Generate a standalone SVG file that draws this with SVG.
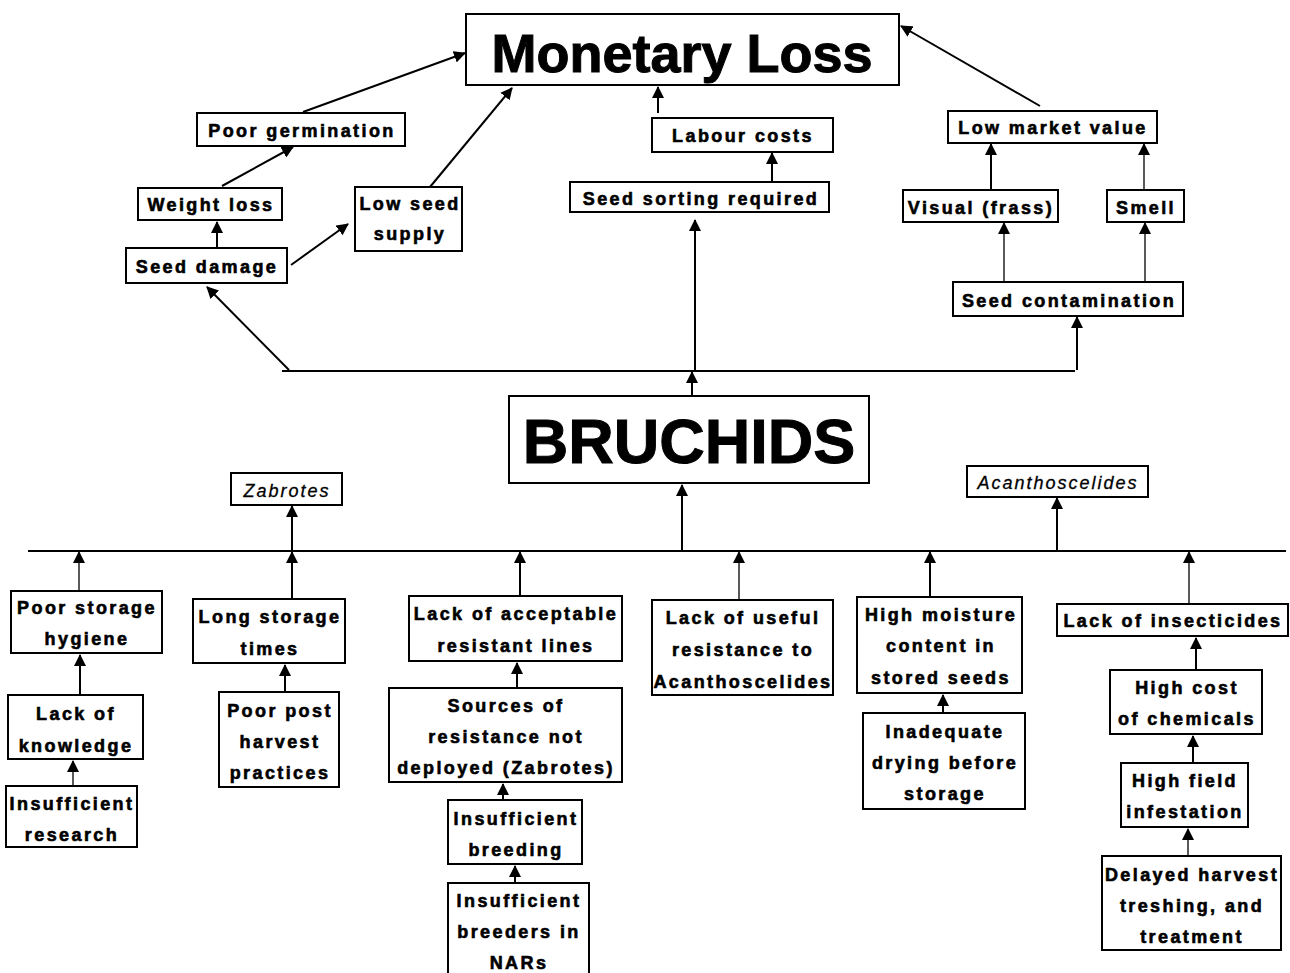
<svg xmlns="http://www.w3.org/2000/svg" width="1290" height="973" viewBox="0 0 1290 973">
  <defs>
    <marker id="arrow" markerUnits="userSpaceOnUse" markerWidth="12" markerHeight="12" refX="11" refY="6" orient="auto">
      <path d="M0,0 L12,6 L0,12 z" fill="#000"/>
    </marker>
    <style>
      .box { fill: #fff; stroke: #000; stroke-width: 2; }
      .lbl { font-family: "Liberation Sans", Arial, sans-serif; font-weight: bold; font-size: 18px; letter-spacing: 2.4px; text-anchor: middle; fill: #000; stroke: #000; stroke-width: 0.6; }
      .sp { font-family: "Liberation Sans", Arial, sans-serif; font-style: italic; font-size: 18px; letter-spacing: 2px; text-anchor: middle; fill: #000; stroke: #000; stroke-width: 0.3; }
      .title { font-family: "Liberation Sans", Arial, sans-serif; font-weight: bold; text-anchor: middle; fill: #000; stroke: #000; stroke-width: 1; }
      .ln { stroke: #000; stroke-width: 2; fill: none; }
      .thin { stroke: #000; stroke-width: 1.3; fill: none; }
      .arr { marker-end: url(#arrow); }
    </style>
  </defs>
  <rect width="1290" height="973" fill="#fff"/>

  <!-- connectors -->
  <g id="connectors">
    <!-- upper bar and its branches -->
    <line class="ln" x1="282" y1="371" x2="1075" y2="371"/>
    <line class="ln arr" x1="289" y1="370" x2="207" y2="287"/>
    <line class="ln arr" x1="695" y1="370" x2="695" y2="220"/>
    <line class="ln arr" x1="1077" y1="370" x2="1077" y2="317"/>
    <line class="ln arr" x1="692" y1="396" x2="692" y2="372"/>
    <!-- loss pathways -->
    <line class="ln arr" x1="217" y1="248" x2="217" y2="222"/>
    <line class="ln arr" x1="291" y1="265" x2="348" y2="224"/>
    <line class="ln arr" x1="222" y1="186" x2="293" y2="147"/>
    <line class="ln arr" x1="303" y1="112" x2="465" y2="53"/>
    <line class="ln arr" x1="430" y1="187" x2="512" y2="88"/>
    <line class="ln arr" x1="772" y1="182" x2="772" y2="153"/>
    <line class="ln arr" x1="658" y1="113" x2="658" y2="87"/>
    <line class="ln arr" x1="1040" y1="106" x2="901" y2="26"/>
    <line class="ln arr" x1="991" y1="190" x2="991" y2="144"/>
    <line class="thin arr" x1="1144" y1="190" x2="1144" y2="144"/>
    <line class="thin arr" x1="1004" y1="282" x2="1004" y2="223"/>
    <line class="thin arr" x1="1145" y1="282" x2="1145" y2="223"/>

    <!-- lower bar and its branches -->
    <line class="ln" x1="28" y1="551" x2="1286" y2="551"/>
    <line class="ln" x1="682" y1="551" x2="682" y2="500"/>
    <line class="ln arr" x1="682" y1="510" x2="682" y2="485"/>
    <line class="ln arr" x1="292" y1="551" x2="292" y2="506"/>
    <line class="ln arr" x1="1057" y1="551" x2="1057" y2="498"/>
    <line class="thin arr" x1="79" y1="591" x2="79" y2="552"/>
    <line class="ln arr" x1="292" y1="599" x2="292" y2="552"/>
    <line class="ln arr" x1="520" y1="596" x2="520" y2="552"/>
    <line class="thin arr" x1="739" y1="600" x2="739" y2="552"/>
    <line class="ln arr" x1="930" y1="597" x2="930" y2="552"/>
    <line class="thin arr" x1="1189" y1="604" x2="1189" y2="552"/>

    <!-- causes chains -->
    <line class="ln arr" x1="80" y1="695" x2="80" y2="655"/>
    <line class="thin arr" x1="73" y1="786" x2="73" y2="761"/>
    <line class="ln arr" x1="285" y1="692" x2="285" y2="665"/>
    <line class="ln arr" x1="517" y1="688" x2="517" y2="663"/>
    <line class="ln arr" x1="503" y1="800" x2="503" y2="784"/>
    <line class="ln arr" x1="515" y1="883" x2="515" y2="866"/>
    <line class="ln arr" x1="943" y1="713" x2="943" y2="695"/>
    <line class="ln arr" x1="1196" y1="670" x2="1196" y2="638"/>
    <line class="ln arr" x1="1193" y1="763" x2="1193" y2="736"/>
    <line class="thin arr" x1="1188" y1="856" x2="1188" y2="829"/>
  </g>

  <!-- headline nodes -->
  <g id="monetary-loss">
    <rect class="box" x="466" y="14" width="433" height="71"/>
    <text class="title" x="682" y="72" font-size="54">Monetary Loss</text>
  </g>
  <g id="bruchids">
    <rect class="box" x="509" y="396" width="360" height="87"/>
    <text class="title" x="689" y="463" font-size="63">BRUCHIDS</text>
  </g>

  <!-- consequences -->
  <g id="poor-germination">
    <rect class="box" x="197" y="113" width="208" height="33"/>
    <text class="lbl" x="302" y="137">Poor germination</text>
  </g>
  <g id="weight-loss">
    <rect class="box" x="138" y="188" width="144" height="32"/>
    <text class="lbl" x="211" y="211">Weight loss</text>
  </g>
  <g id="seed-damage">
    <rect class="box" x="126" y="248" width="161" height="35"/>
    <text class="lbl" x="207" y="273">Seed damage</text>
  </g>
  <g id="low-seed-supply">
    <rect class="box" x="355" y="187" width="107" height="64"/>
    <text class="lbl" x="410" y="210">Low seed</text>
    <text class="lbl" x="410" y="240">supply</text>
  </g>
  <g id="labour-costs">
    <rect class="box" x="652" y="118" width="181" height="34"/>
    <text class="lbl" x="743" y="142">Labour costs</text>
  </g>
  <g id="seed-sorting">
    <rect class="box" x="570" y="182" width="259" height="30"/>
    <text class="lbl" x="701" y="205">Seed sorting required</text>
  </g>
  <g id="low-market-value">
    <rect class="box" x="948" y="111" width="209" height="32"/>
    <text class="lbl" x="1053" y="134">Low market value</text>
  </g>
  <g id="visual-frass">
    <rect class="box" x="903" y="190" width="155" height="32"/>
    <text class="lbl" x="981" y="214">Visual (frass)</text>
  </g>
  <g id="smell">
    <rect class="box" x="1107" y="190" width="77" height="32"/>
    <text class="lbl" x="1146" y="214">Smell</text>
  </g>
  <g id="seed-contamination">
    <rect class="box" x="953" y="282" width="230" height="34"/>
    <text class="lbl" x="1069" y="307">Seed contamination</text>
  </g>

  <!-- species -->
  <g id="zabrotes">
    <rect class="box" x="231" y="473" width="111" height="32"/>
    <text class="sp" x="287" y="497">Zabrotes</text>
  </g>
  <g id="acanthoscelides">
    <rect class="box" x="967" y="466" width="181" height="31"/>
    <text class="sp" x="1058" y="489">Acanthoscelides</text>
  </g>

  <!-- causes -->
  <g id="poor-storage-hygiene">
    <rect class="box" x="11" y="591" width="151" height="62"/>
    <text class="lbl" x="87" y="614">Poor storage</text>
    <text class="lbl" x="87" y="645">hygiene</text>
  </g>
  <g id="lack-of-knowledge">
    <rect class="box" x="8" y="695" width="135" height="64"/>
    <text class="lbl" x="76" y="720">Lack of</text>
    <text class="lbl" x="76" y="752">knowledge</text>
  </g>
  <g id="insufficient-research">
    <rect class="box" x="6" y="786" width="131" height="61"/>
    <text class="lbl" x="72" y="810">Insufficient</text>
    <text class="lbl" x="72" y="841">research</text>
  </g>
  <g id="long-storage-times">
    <rect class="box" x="193" y="599" width="152" height="64"/>
    <text class="lbl" x="270" y="623">Long storage</text>
    <text class="lbl" x="270" y="655">times</text>
  </g>
  <g id="poor-post-harvest">
    <rect class="box" x="219" y="692" width="120" height="95"/>
    <text class="lbl" x="280" y="717">Poor post</text>
    <text class="lbl" x="280" y="748">harvest</text>
    <text class="lbl" x="280" y="779">practices</text>
  </g>
  <g id="lack-resistant-lines">
    <rect class="box" x="409" y="596" width="213" height="65"/>
    <text class="lbl" x="516" y="620">Lack of acceptable</text>
    <text class="lbl" x="516" y="652">resistant lines</text>
  </g>
  <g id="sources-not-deployed">
    <rect class="box" x="389" y="688" width="233" height="94"/>
    <text class="lbl" x="506" y="712">Sources of</text>
    <text class="lbl" x="506" y="743">resistance not</text>
    <text class="lbl" x="506" y="774">deployed (Zabrotes)</text>
  </g>
  <g id="insufficient-breeding">
    <rect class="box" x="448" y="800" width="134" height="64"/>
    <text class="lbl" x="516" y="825">Insufficient</text>
    <text class="lbl" x="516" y="856">breeding</text>
  </g>
  <g id="insufficient-breeders">
    <rect class="box" x="448" y="883" width="141" height="100"/>
    <text class="lbl" x="519" y="907">Insufficient</text>
    <text class="lbl" x="519" y="938">breeders in</text>
    <text class="lbl" x="519" y="969">NARs</text>
  </g>
  <g id="lack-useful-resistance">
    <rect class="box" x="652" y="600" width="181" height="95"/>
    <text class="lbl" x="743" y="624">Lack of useful</text>
    <text class="lbl" x="743" y="656">resistance to</text>
    <text class="lbl" x="743" y="688">Acanthoscelides</text>
  </g>
  <g id="high-moisture">
    <rect class="box" x="857" y="597" width="165" height="96"/>
    <text class="lbl" x="941" y="621">High moisture</text>
    <text class="lbl" x="941" y="652">content in</text>
    <text class="lbl" x="941" y="684">stored seeds</text>
  </g>
  <g id="inadequate-drying">
    <rect class="box" x="863" y="713" width="162" height="96"/>
    <text class="lbl" x="945" y="738">Inadequate</text>
    <text class="lbl" x="945" y="769">drying before</text>
    <text class="lbl" x="945" y="800">storage</text>
  </g>
  <g id="lack-of-insecticides">
    <rect class="box" x="1057" y="604" width="231" height="32"/>
    <text class="lbl" x="1173" y="627">Lack of insecticides</text>
  </g>
  <g id="high-cost-chemicals">
    <rect class="box" x="1110" y="670" width="152" height="64"/>
    <text class="lbl" x="1187" y="694">High cost</text>
    <text class="lbl" x="1187" y="725">of chemicals</text>
  </g>
  <g id="high-field-infestation">
    <rect class="box" x="1121" y="763" width="127" height="64"/>
    <text class="lbl" x="1185" y="787">High field</text>
    <text class="lbl" x="1185" y="818">infestation</text>
  </g>
  <g id="delayed-harvest">
    <rect class="box" x="1102" y="856" width="179" height="94"/>
    <text class="lbl" x="1192" y="881">Delayed harvest</text>
    <text class="lbl" x="1192" y="912">treshing, and</text>
    <text class="lbl" x="1192" y="943">treatment</text>
  </g>
</svg>
